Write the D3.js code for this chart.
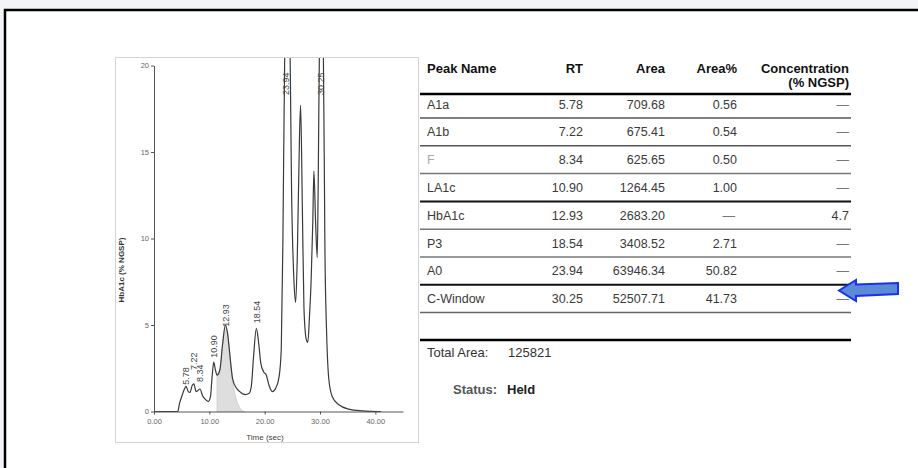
<!DOCTYPE html>
<html><head><meta charset="utf-8">
<script src="https://cdn.jsdelivr.net/npm/d3@7"></script>
<style>
html,body{margin:0;padding:0;background:#f3f4f7;}
svg{display:block;font-family:"Liberation Sans",Arial,sans-serif;}
</style></head>
<body>
<svg id="chart" width="918" height="468"></svg>
<script>
// ---- chromatogram data (time in sec, HbA1c signal) ----
const timeSec = [0,4.3,4.6,5.1,5.5,5.8,6.2,6.5,6.9,7.2,7.6,7.9,8.3,8.8,9.3,9.8,10.2,10.5,10.8,11.1,11.4,11.9,12.4,12.9,13.3,13.7,14.2,14.8,15.5,16.5,17.2,17.6,18.0,18.5,18.9,19.3,19.8,20.3,20.8,21.4,22.0,22.6,23.0,23.3,23.6,23.94,24.5,24.9,25.3,25.6,25.9,26.3,26.5,26.8,27.1,27.5,27.8,28.1,28.4,28.7,28.9,29.2,29.5,29.7,29.9,30.25,30.6,30.9,31.2,31.6,32.2,33.4,35.2,37.6,40.6,41.0];
const signal  = [0,0,0.45,0.95,1.3,1.45,1.15,1.1,1.5,1.6,1.15,1.2,1.3,0.9,0.7,0.58,0.85,2.0,2.85,2.4,2.1,2.4,3.9,5.0,4.5,3.3,1.9,1.4,1.15,0.97,1.05,1.5,3.2,4.8,4.0,2.8,2.3,2.1,1.5,1.15,1.35,2.0,3.6,10,20,23,22,12,7.5,6.3,9,16,17.7,12,6,4.2,4.0,5.5,7.6,11,13.9,11,8.9,14,21,23,21,9,4.5,1.85,0.87,0.39,0.14,0.04,0,0];
// shaded HbA1c peak
const shadeTime   = [11.4,11.4,11.9,12.4,12.9,13.3,13.7,14.2,14.7,15.2,15.7,16.3];
const shadeSignal = [0,2.1,2.4,3.9,5.0,4.5,3.3,1.8,0.9,0.4,0.12,0];
// peak labels
const peakLabels  = ["5.78","7.22","8.34","10.90","12.93","18.54","23.94","30.25"];
const peakRT      = [5.78,7.22,8.34,10.90,12.93,18.54,23.94,30.25];
const labelBase   = [1.55,2.4,1.7,3.1,4.9,5.1,18.3,18.3];
const xTicks = [0,10,20,30,40];
const yTicks = [0,5,10,15,20];

// ---- table data ----
const peakNames = ["A1a","A1b","F","LA1c","HbA1c","P3","A0","C-Window"];
const rtValues  = ["5.78","7.22","8.34","10.90","12.93","18.54","23.94","30.25"];
const areaValues= ["709.68","675.41","625.65","1264.45","2683.20","3408.52","63946.34","52507.71"];
const areaPct   = ["0.56","0.54","0.50","1.00","—","2.71","50.82","41.73"];
const concValues= ["—","—","—","—","4.7","—","—","—"];
const totalArea = "125821";
const statusText= "Held";

const svg = d3.select("#chart");
// frame
svg.append("rect").attr("x",5).attr("y",10).attr("width",920).attr("height",470)
  .attr("fill","#fff").attr("stroke","#000").attr("stroke-width",2.5);

// chart panel border
svg.append("rect").attr("x",115.5).attr("y",57.5).attr("width",303).attr("height",385)
  .attr("fill","none").attr("stroke","#d4d4d4").attr("stroke-width",1);

const x = d3.scaleLinear().domain([0,45]).range([154,403]);
const y = d3.scaleLinear().domain([0,20]).range([411.5,65.5]);

svg.append("defs").append("clipPath").attr("id","plotclip")
  .append("rect").attr("x",150).attr("y",58).attr("width",260).attr("height",360);

const g = svg.append("g").attr("clip-path","url(#plotclip)");
const shadePts = shadeTime.map((t,i)=>[t,shadeSignal[i]]);
g.append("path").datum(shadePts)
  .attr("d", d3.area().x(d=>x(d[0])).y0(y(0)).y1(d=>y(d[1])).curve(d3.curveMonotoneX))
  .attr("fill","#dedede").attr("stroke","#c8c8c8").attr("stroke-width",0.8);

const pts = timeSec.map((t,i)=>[t,signal[i]]);
g.append("path").datum(pts)
  .attr("d", d3.line().x(d=>x(d[0])).y(d=>y(d[1])).curve(d3.curveMonotoneX))
  .attr("fill","none").attr("stroke","#3a3a3a").attr("stroke-width",1.2);

// axes
const yAxis = svg.append("g").attr("transform",`translate(${x(0)},0)`)
  .call(d3.axisLeft(y).tickValues(yTicks).tickSize(3).tickSizeOuter(0).tickFormat(d3.format("d")));
const xAxis = svg.append("g").attr("transform",`translate(0,${y(0)})`)
  .call(d3.axisBottom(x).tickValues(xTicks).tickSize(3).tickSizeOuter(0).tickFormat(d3.format(".2f")));
[xAxis,yAxis].forEach(a=>{
  a.selectAll("path,line").attr("stroke","#555");
  a.selectAll("text").attr("fill","#666").style("font-size","7.5px").style("font-family","Liberation Sans, Arial");
});
yAxis.selectAll("text").attr("x",-5);
xAxis.selectAll("text").attr("y",7);

svg.append("text").attr("transform","translate(124,270) rotate(-90)")
  .attr("text-anchor","middle").attr("font-size",8).attr("font-weight","bold").attr("fill","#333")
  .text("HbA1c (% NGSP)");
svg.append("text").attr("x",265).attr("y",440).attr("text-anchor","middle")
  .attr("font-size",8).attr("fill","#444").text("Time (sec)");

// peak labels
peakLabels.forEach((lab,i)=>{
  const px = x(peakRT[i])+3, py = y(labelBase[i]);
  svg.append("text").attr("transform",`translate(${px},${py}) rotate(-90)`)
    .attr("font-size",9).attr("fill","#444").text(lab);
});

// ---- table ----
const tx = {name:427, rt:583, area:665, pct:737, conc:849};
const hdr = svg.append("g").attr("font-weight","bold").attr("font-size",13).attr("fill","#111");
hdr.append("text").attr("x",tx.name).attr("y",73).text("Peak Name");
hdr.append("text").attr("x",tx.rt).attr("y",73).attr("text-anchor","end").text("RT");
hdr.append("text").attr("x",tx.area).attr("y",73).attr("text-anchor","end").text("Area");
hdr.append("text").attr("x",tx.pct).attr("y",73).attr("text-anchor","end").text("Area%");
hdr.append("text").attr("x",tx.conc).attr("y",73).attr("text-anchor","end").text("Concentration");
hdr.append("text").attr("x",tx.conc).attr("y",87).attr("text-anchor","end").text("(% NGSP)");

svg.append("line").attr("x1",420).attr("x2",851).attr("y1",94).attr("y2",94)
  .attr("stroke","#000").attr("stroke-width",2.5);

const rowH = 27.8, row0 = 108.5;
const lineStyles = ["#555","#555","#777","#111","#777","#777","#111","#666"];
peakNames.forEach((n,i)=>{
  const ty = row0 + i*rowH;
  const rg = svg.append("g").attr("font-size",12.5).attr("fill","#3a3a3a");
  rg.append("text").attr("x",tx.name).attr("y",ty).attr("fill", n==="F" ? "#aaa" : "#3a3a3a").text(n);
  rg.append("text").attr("x",tx.rt).attr("y",ty).attr("text-anchor","end").text(rtValues[i]);
  rg.append("text").attr("x",tx.area).attr("y",ty).attr("text-anchor","end").text(areaValues[i]);
  rg.append("text").attr("x",tx.pct-(areaPct[i]==="—"?2:0)).attr("y",ty).attr("text-anchor","end")
    .attr("fill", areaPct[i]==="—" ? "#777" : "#3a3a3a").text(areaPct[i]);
  rg.append("text").attr("x",tx.conc).attr("y",ty).attr("text-anchor","end")
    .attr("fill", concValues[i]==="—" ? "#777" : "#3a3a3a").text(concValues[i]);
  svg.append("line").attr("x1",420).attr("x2",851).attr("y1",ty+9.5).attr("y2",ty+9.5)
    .attr("stroke",lineStyles[i]).attr("stroke-width", lineStyles[i]==="#111" ? 2 : 1.5);
});

svg.append("line").attr("x1",420).attr("x2",851).attr("y1",340).attr("y2",340)
  .attr("stroke","#000").attr("stroke-width",2.5);
svg.append("text").attr("x",427).attr("y",357).attr("font-size",13).attr("fill","#333").text("Total Area:");
svg.append("text").attr("x",508).attr("y",357).attr("font-size",13).attr("fill","#333").text(totalArea);
svg.append("text").attr("x",453).attr("y",394).attr("font-size",13).attr("font-weight","bold").attr("fill","#555").text("Status:");
svg.append("text").attr("x",507).attr("y",394).attr("font-size",13).attr("font-weight","bold").attr("fill","#222").text(statusText);

// blue arrow pointing at C-Window concentration
svg.append("path")
  .attr("d","M839,290.5 L856,280 L856,284.5 L898,283 L898,294 L856,296 L856,301 Z")
  .attr("fill","#5b8ad6").attr("stroke","#1a2ff0").attr("stroke-width",2).attr("stroke-linejoin","miter");
</script>
</body></html>
